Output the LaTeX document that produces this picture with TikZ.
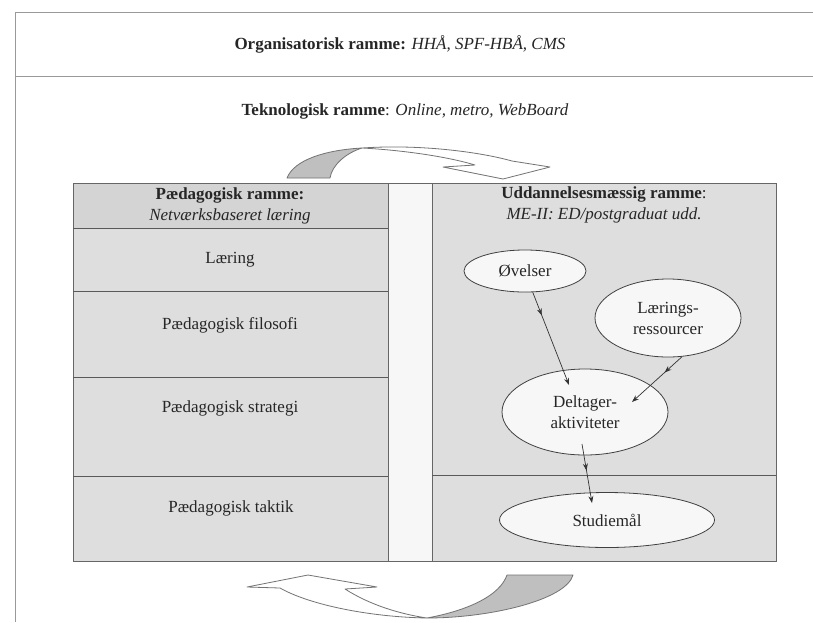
\documentclass[tikz,border=0pt]{standalone}
\usepackage{fontspec}
\setmainfont{Liberation Serif}
\usetikzlibrary{arrows.meta,decorations.markings,shapes.geometric}
\begin{document}
\begin{tikzpicture}[x=1pt,y=-1pt,
  frameline/.style={draw=black!40, line width=1pt},
  panel/.style={fill=black!13, draw=black!60, line width=0.9pt},
  rowline/.style={draw=black!65, line width=0.9pt},
  lbl/.style={font=\fontsize{17}{21}\selectfont, text=black!85, align=center, inner sep=0pt},
  ell/.style={ellipse, draw=black!75, line width=0.8pt, fill=black!3, inner sep=0pt,
    font=\fontsize{17}{21}\selectfont, text=black!85, align=center},
  arrline/.style={draw=black!55, line width=0.8pt, line join=round},
  conn/.style={draw=black!80, line width=0.7pt, -{Stealth[length=7pt,width=5pt]},
    decoration={markings, mark=at position #1 with {\arrow{Stealth[length=7pt,width=5pt]}}},
    postaction={decorate}}
]
\useasboundingbox (0,0) rectangle (813,622);
\fill[white] (0,0) rectangle (813,622);
% outer frame lines
\draw[frameline] (15,622) -- (15,12) -- (813,12);
\draw[frameline] (15,76) -- (813,76);
\node[lbl] (org) at (400,44) {\textbf{Organisatorisk ramme:} \textit{HHÅ, SPF-HBÅ, CMS}};
\node[lbl] (tek) at (405,111) {\textbf{Teknologisk ramme}: \textit{Online, metro, WebBoard}};
% top curved arrow
\filldraw[arrline, fill=black!25] (287,178) .. controls (294,160) and (325,150) .. (362,148)
  .. controls (346,153) and (332,165) .. (330,178) -- cycle;
\filldraw[arrline, fill=white] (362,148) .. controls (420,144) and (480,152) .. (512,161)
  -- (550,167) -- (503,179) -- (443,167) -- (475,165)
  .. controls (445,156) and (400,150) .. (362,148) -- cycle;
% bottom curved arrow
\filldraw[arrline, fill=black!25] (573,575) .. controls (566,600) and (490,618) .. (427,618)
  .. controls (470,610) and (500,595) .. (507,575) -- cycle;
\filldraw[arrline, fill=white] (427,618) .. controls (370,617) and (310,605) .. (280,588)
  -- (247,587) -- (308,575) -- (377,587) -- (345,589)
  .. controls (370,605) and (400,614) .. (427,618) -- cycle;
% panels
\fill[black!3] (388,183) rectangle (432,561);
\filldraw[panel] (73,183) rectangle (388,561);
\fill[black!17] (73,183) rectangle (388,228);
\filldraw[panel] (432,183) rectangle (776,561);
\draw[draw=black!60, line width=0.9pt] (73,183) rectangle (776,561);
\draw[rowline] (73,228) -- (388,228);
\draw[rowline] (73,291) -- (388,291);
\draw[rowline] (73,377) -- (388,377);
\draw[rowline] (73,476) -- (388,476);
\draw[rowline] (432,475) -- (776,475);
% left texts
\node[lbl] (ph) at (230,206) {\textbf{Pædagogisk ramme:}\\\textit{Netværksbaseret læring}};
\node[lbl] (lae) at (230,260) {Læring};
\node[lbl] (fil) at (230,325) {Pædagogisk filosofi};
\node[lbl] (str) at (230,408) {Pædagogisk strategi};
\node[lbl] (tak) at (231,508) {Pædagogisk taktik};
% right texts
\node[lbl] (uh) at (604,205) {\textbf{Uddannelsesmæssig ramme}:\\\textit{ME-II: ED/postgraduat udd.}};
\node[ell, minimum width=122pt, minimum height=42pt] (ov) at (525,271) {Øvelser};
\node[ell, minimum width=146pt, minimum height=78pt] (lr) at (668,318) {Lærings-\\ressourcer};
\node[ell, minimum width=166pt, minimum height=86pt] (dl) at (585,412) {Deltager-\\aktiviteter};
\node[ell, minimum width=215pt, minimum height=55pt] (sm) at (607,520) {Studiemål};
% connectors
\draw[conn=0.25] (ov.-70) -- ([xshift=-16pt,yshift=27pt]dl.center);
\draw[conn=0.35] (lr.-70) -- ([xshift=47pt,yshift=10pt]dl.center);
\draw[conn=0.45] ([xshift=-3pt,yshift=-32pt]dl.center) -- ([xshift=-15pt,yshift=17pt]sm.center);
\end{tikzpicture}
\end{document}
